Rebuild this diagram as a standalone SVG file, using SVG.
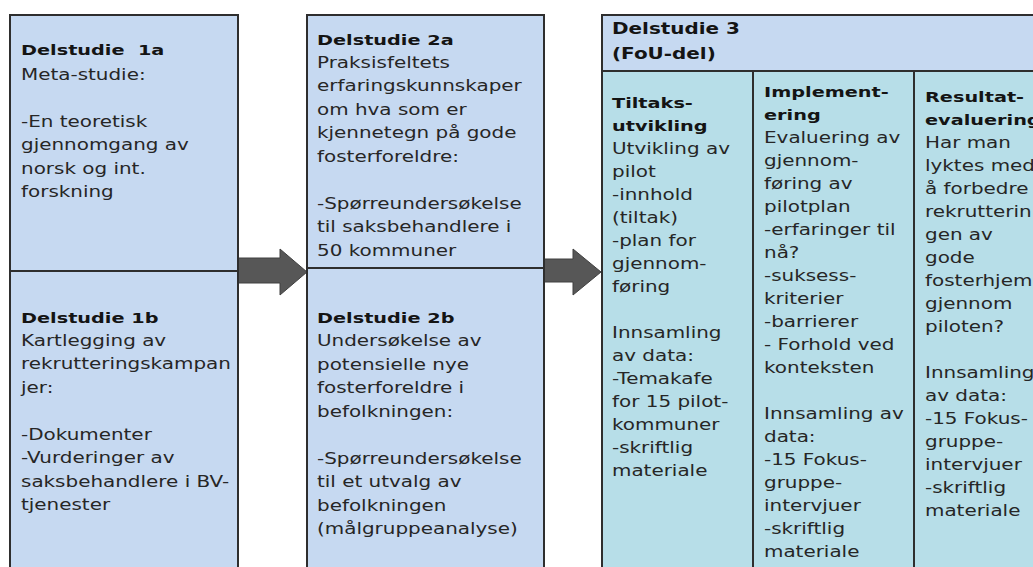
<svg xmlns="http://www.w3.org/2000/svg" width="1033" height="567" viewBox="0 0 1033 567">
<style>
.box{fill:#C6D9F1;stroke:#2E2E2E;stroke-width:2}
.body{fill:#B7DEE8;stroke:#2E2E2E;stroke-width:2}
.arrow{fill:#575757;stroke:#404040;stroke-width:1}
.t{font-family:"DejaVu Sans",Verdana,sans-serif;font-size:15px;fill:#262626}
.b{font-weight:bold;font-size:14.5px;fill:#141414}
.h{font-weight:bold;font-size:15px;fill:#141414}
</style>
<rect width="1033" height="567" fill="#FFFFFF"/>
<g id="connectors">
<polygon class="arrow" points="238,258 280,258 280,249 307,272 280,295 280,283 238,283"/>
<polygon class="arrow" points="544,259 573,259 573,249 601,272 573,295 573,282 544,282"/>
</g>
<g id="delstudie-1a">
<rect class="box" x="10" y="15" width="228" height="256"/>
<text class="t" transform="translate(21,55) scale(1.33,1)"><tspan x="0" class="b">Delstudie&#160; 1a</tspan><tspan x="0" dy="25">Meta-studie:</tspan><tspan x="0" dy="47">-En teoretisk</tspan><tspan x="0" dy="23.5">gjennomgang av</tspan><tspan x="0" dy="23.5">norsk og int.</tspan><tspan x="0" dy="23.5">forskning</tspan></text>
</g>
<g id="delstudie-1b">
<rect class="box" x="10" y="271" width="228" height="320"/>
<text class="t" transform="translate(21,323) scale(1.33,1)"><tspan x="0" class="b">Delstudie 1b</tspan><tspan x="0" dy="23">Kartlegging av</tspan><tspan x="0" dy="23.5">rekrutteringskampan</tspan><tspan x="0" dy="23.5">jer:</tspan><tspan x="0" dy="47">-Dokumenter</tspan><tspan x="0" dy="23.5">-Vurderinger av</tspan><tspan x="0" dy="23.5">saksbehandlere i BV-</tspan><tspan x="0" dy="23.5">tjenester</tspan></text>
</g>
<g id="delstudie-2a">
<rect class="box" x="307" y="15" width="237" height="253"/>
<text class="t" transform="translate(317,45) scale(1.33,1)"><tspan x="0" class="b">Delstudie 2a</tspan><tspan x="0" dy="23">Praksisfeltets</tspan><tspan x="0" dy="23.5">erfaringskunnskaper</tspan><tspan x="0" dy="23.5">om hva som er</tspan><tspan x="0" dy="23.5">kjennetegn på gode</tspan><tspan x="0" dy="23.5">fosterforeldre:</tspan><tspan x="0" dy="47">-Spørreundersøkelse</tspan><tspan x="0" dy="23.5">til saksbehandlere i</tspan><tspan x="0" dy="23.5">50 kommuner</tspan></text>
</g>
<g id="delstudie-2b">
<rect class="box" x="307" y="268" width="237" height="320"/>
<text class="t" transform="translate(317,323) scale(1.33,1)"><tspan x="0" class="b">Delstudie 2b</tspan><tspan x="0" dy="23.5">Undersøkelse av</tspan><tspan x="0" dy="23.5">potensielle nye</tspan><tspan x="0" dy="23.5">fosterforeldre i</tspan><tspan x="0" dy="23.5">befolkningen:</tspan><tspan x="0" dy="47">-Spørreundersøkelse</tspan><tspan x="0" dy="23.5">til et utvalg av</tspan><tspan x="0" dy="23.5">befolkningen</tspan><tspan x="0" dy="23.5">(målgruppeanalyse)</tspan></text>
</g>
<g id="delstudie-3">
<rect class="box" x="602" y="15" width="450" height="56"/>
<text class="t" transform="translate(612,34) scale(1.33,1)"><tspan x="0" class="h">Delstudie 3</tspan><tspan x="0" dy="25" class="h">(FoU-del)</tspan></text>
</g>
<g id="tiltaksutvikling">
<rect class="body" x="602" y="71" width="151" height="520"/>
<text class="t" transform="translate(612,108) scale(1.33,1)"><tspan x="0" class="b">Tiltaks-</tspan><tspan x="0" dy="23" class="b">utvikling</tspan><tspan x="0" dy="23">Utvikling av</tspan><tspan x="0" dy="23">pilot</tspan><tspan x="0" dy="23">-innhold</tspan><tspan x="0" dy="23">(tiltak)</tspan><tspan x="0" dy="23">-plan for</tspan><tspan x="0" dy="23">gjennom-</tspan><tspan x="0" dy="23">føring</tspan><tspan x="0" dy="46">Innsamling</tspan><tspan x="0" dy="23">av data:</tspan><tspan x="0" dy="23">-Temakafe</tspan><tspan x="0" dy="23">for 15 pilot-</tspan><tspan x="0" dy="23">kommuner</tspan><tspan x="0" dy="23">-skriftlig</tspan><tspan x="0" dy="23">materiale</tspan></text>
</g>
<g id="implementering">
<rect class="body" x="753" y="71" width="161" height="520"/>
<text class="t" transform="translate(764,97) scale(1.33,1)"><tspan x="0" class="b">Implement-</tspan><tspan x="0" dy="23" class="b">ering</tspan><tspan x="0" dy="23">Evaluering av</tspan><tspan x="0" dy="23">gjennom-</tspan><tspan x="0" dy="23">føring av</tspan><tspan x="0" dy="23">pilotplan</tspan><tspan x="0" dy="23">-erfaringer til</tspan><tspan x="0" dy="23">nå?</tspan><tspan x="0" dy="23">-suksess-</tspan><tspan x="0" dy="23">kriterier</tspan><tspan x="0" dy="23">-barrierer</tspan><tspan x="0" dy="23">- Forhold ved</tspan><tspan x="0" dy="23">konteksten</tspan><tspan x="0" dy="46">Innsamling av</tspan><tspan x="0" dy="23">data:</tspan><tspan x="0" dy="23">-15 Fokus-</tspan><tspan x="0" dy="23">gruppe-</tspan><tspan x="0" dy="23">intervjuer</tspan><tspan x="0" dy="23">-skriftlig</tspan><tspan x="0" dy="23">materiale</tspan></text>
</g>
<g id="resultatevaluering">
<rect class="body" x="914" y="71" width="140" height="520"/>
<text class="t" transform="translate(925,102) scale(1.33,1)"><tspan x="0" class="b">Resultat-</tspan><tspan x="0" dy="23" class="b">evaluering</tspan><tspan x="0" dy="23">Har man</tspan><tspan x="0" dy="23">lyktes med</tspan><tspan x="0" dy="23">å forbedre</tspan><tspan x="0" dy="23">rekrutterin</tspan><tspan x="0" dy="23">gen av</tspan><tspan x="0" dy="23">gode</tspan><tspan x="0" dy="23">fosterhjem</tspan><tspan x="0" dy="23">gjennom</tspan><tspan x="0" dy="23">piloten?</tspan><tspan x="0" dy="46">Innsamling</tspan><tspan x="0" dy="23">av data:</tspan><tspan x="0" dy="23">-15 Fokus-</tspan><tspan x="0" dy="23">gruppe-</tspan><tspan x="0" dy="23">intervjuer</tspan><tspan x="0" dy="23">-skriftlig</tspan><tspan x="0" dy="23">materiale</tspan></text>
</g>
</svg>
